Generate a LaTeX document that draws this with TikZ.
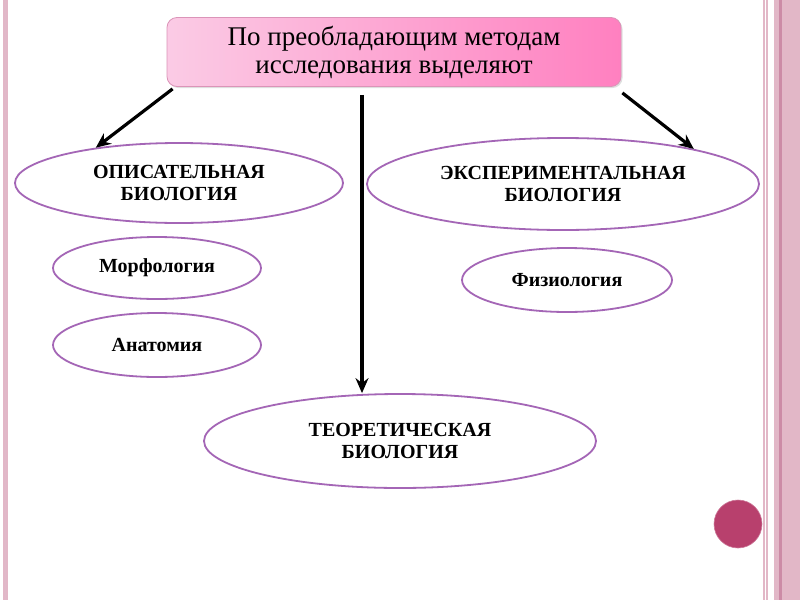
\documentclass[tikz,border=0pt]{standalone}
\usepackage{fontspec}
\setmainfont{Liberation Serif}
\usetikzlibrary{shapes.geometric,arrows.meta,shadows}
\definecolor{ellc}{HTML}{A466B6}
\definecolor{stripe}{HTML}{E2B7C7}
\definecolor{stripedk}{HTML}{CC8BA6}
\definecolor{dotc}{HTML}{B8406D}
\definecolor{boxl}{HTML}{FBCBE5}
\definecolor{boxr}{HTML}{FF80C0}
\begin{document}
\begin{tikzpicture}[x=1pt,y=-1pt,
  oval/.style={ellipse, draw=ellc, line width=1.8pt, fill=white, inner sep=0pt, align=center, font=\bfseries\fontsize{20}{22}\selectfont},
  arr/.style={line width=3.2pt, -{Stealth[length=15pt,width=13pt,inset=5pt]}}]
\useasboundingbox (0,0) rectangle (800,600);
\fill[white] (0,0) rectangle (800,600);
% borders
\fill[stripe] (3,0) rectangle (8,600);
\fill[stripedk!60] (5,0) rectangle (6,600);
\fill[stripe] (763,0) rectangle (765,600);
\fill[stripe] (766,0) rectangle (767.5,600);
\fill[stripe] (774,0) rectangle (800,600);
\fill[stripedk] (778.5,0) rectangle (781.5,600);
% top box
\node[draw=boxr!80!black!70, line width=0.8pt, rounded corners=10pt, left color=boxl, right color=boxr,
  minimum width=454pt, minimum height=69pt, align=center, inner sep=0pt,
  font=\fontsize{27}{28}\selectfont,
  drop shadow={shadow xshift=1.5pt, shadow yshift=-1.5pt, opacity=0.25}] (top) at (394,52)
  {По преобладающим методам\\исследования выделяют};
% ovals
\node[oval, minimum width=328pt, minimum height=80pt] (desc) at (179,183) {ОПИСАТЕЛЬНАЯ\\БИОЛОГИЯ};
\node[oval, minimum width=392pt, minimum height=92pt] (exp) at (563,184) {ЭКСПЕРИМЕНТАЛЬНАЯ\\БИОЛОГИЯ};
\node[oval, minimum width=208pt, minimum height=62pt] (morph) at (157,268) {Морфология};
\node[oval, minimum width=208pt, minimum height=64pt] (anat) at (157,345) {Анатомия};
\node[oval, minimum width=210pt, minimum height=64pt] (phys) at (567,280) {Физиология};
\node[oval, minimum width=392pt, minimum height=94pt] (theo) at (400,441) {ТЕОРЕТИЧЕСКАЯ\\БИОЛОГИЯ};
% arrows
\draw[arr] ([xshift=6pt,yshift=-2pt]top.south west) -- (desc.157);
\draw[arr] ([xshift=1pt,yshift=-6pt]top.south east) -- (exp.15);
\draw[arr] ([xshift=-32pt,yshift=-8pt]top.south) -- (theo.north -| {362,0});
% dot
\node[circle, fill=dotc, draw=dotc!70!white, line width=0.6pt, minimum size=48pt, inner sep=0pt] (dot) at (738,524) {};
\end{tikzpicture}
\end{document}
